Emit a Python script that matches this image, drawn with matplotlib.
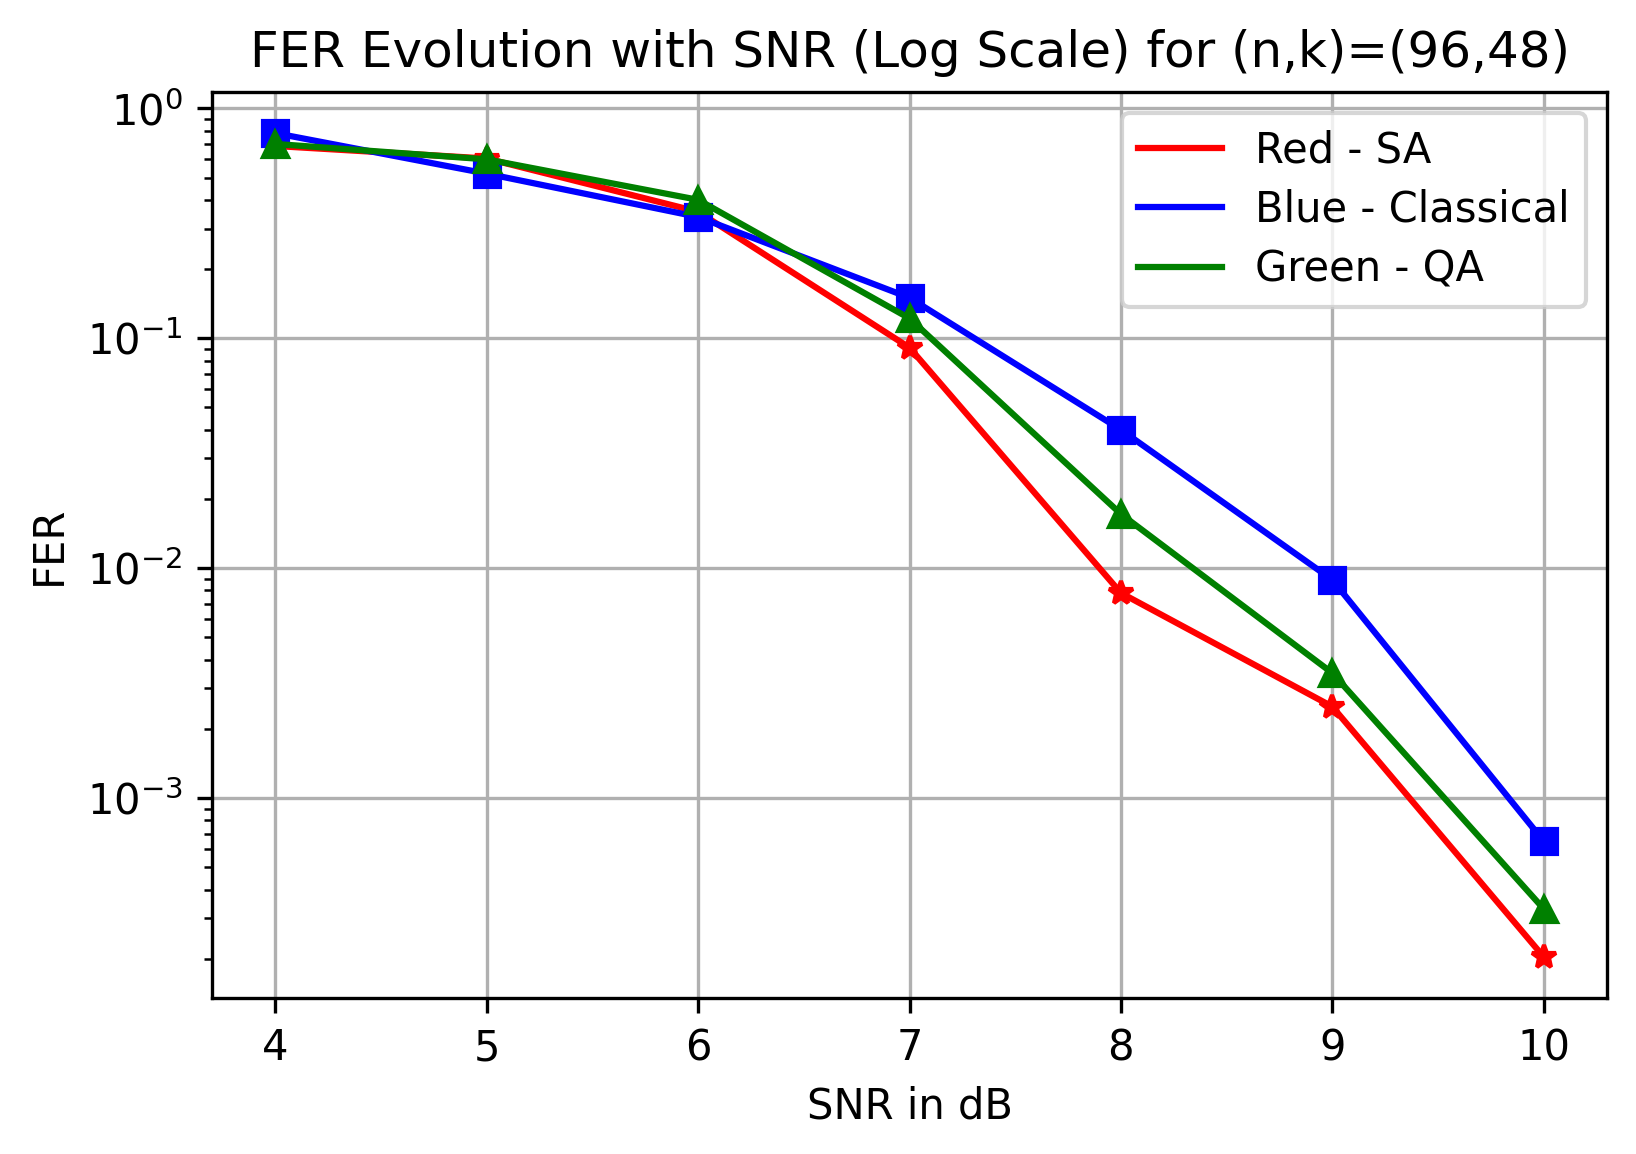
import matplotlib
matplotlib.use("Agg")
import matplotlib.pyplot as plt

snr = [4, 5, 6, 7, 8, 9, 10]
fer_sa = [0.686, 0.605, 0.355, 0.091, 0.0078, 0.0025, 0.000204]
fer_classical = [0.78, 0.52, 0.337, 0.15, 0.040, 0.0089, 0.00065]
fer_qa = [0.70, 0.60, 0.40, 0.122, 0.0172, 0.0035, 0.00033]

fig = plt.figure(figsize=(1636/300, 1154/300), dpi=300)
ax = fig.add_axes([0.1296, 0.1352, 0.9823 - 0.1296, 0.9203 - 0.1352])

ax.plot(snr, fer_sa, color='red', label='Red - SA')
ax.plot(snr, fer_sa, 'r*', linestyle='none')
ax.plot(snr, fer_classical, color='blue', label='Blue - Classical')
ax.plot(snr, fer_classical, 'bs', linestyle='none')
ax.plot(snr, fer_qa, color='green', label='Green - QA')
ax.plot(snr, fer_qa, 'g^', linestyle='none')

ax.set_yscale('log')
ax.set_xlabel('SNR in dB')
ax.set_ylabel('FER')
ax.set_title('FER Evolution with SNR (Log Scale) for (n,k)=(96,48)', fontsize=12)
ax.grid(True)
ax.legend(loc='upper right', fontsize=10, labelspacing=0.42)

fig.savefig('out.png', dpi=300)
